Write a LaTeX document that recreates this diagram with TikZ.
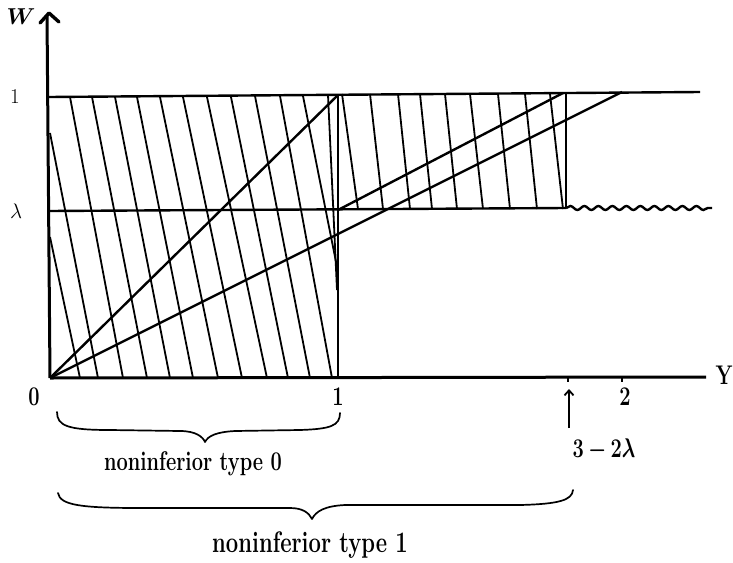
\RequirePackage{fix-cm}
\documentclass[tikz,border=0pt]{standalone}
\usepackage{amsmath,bm,graphicx}
\usetikzlibrary{arrows.meta,decorations.pathmorphing}
\newcommand{\tallt}[1]{\scalebox{1}[1.35]{#1}}
\begin{document}
\begin{tikzpicture}[x=1pt,y=-1pt,
  axis/.style={line width=3pt},
  mainline/.style={line width=2.4pt},
  hatch/.style={line width=1.8pt},
  bracepath/.style={line width=1.7pt,line cap=round,line join=round},
  lab/.style={inner sep=0pt,anchor=base,font=\fontsize{20}{24}\selectfont\bfseries},
  ylab/.style={inner sep=0pt,font=\fontsize{21}{24}\selectfont}]
\useasboundingbox (0,0) rectangle (733,562);
% named points
\coordinate (O) at (50,378);
\coordinate (Wtop) at (47,15);
\coordinate (Yend) at (706,377);
\coordinate (TL) at (49,97);
\coordinate (TR) at (700,92);
\coordinate (LL) at (49,211);
\coordinate (LR) at (566,208);
\coordinate (WavyEnd) at (712,208);
\coordinate (V1top) at (338,95);
\coordinate (V1bot) at (338,378);
\coordinate (V2top) at (566,93);
\coordinate (Y1L) at (338,210);
\coordinate (Y1Ltop) at (563,93);
\coordinate (Y2top) at (622,92);
% hatching, left block
\foreach \xa/\ya/\xb/\yb in {50/237/80/378, 50/133/98/378, 70/97/123/378, 92/97/147/378,
  115/97/170/378, 137/97/193/378, 160/97/218/378, 183/97/242/378, 207/97/267/378,
  231/97/288/378, 255/96/310/378, 280/96/332/378, 303/96/338/272, 328/95/337/290}
  \draw[hatch] (\xa,\ya) -- (\xb,\yb);
% hatching, right block
\foreach \xa/\xb in {342/358, 370/383, 398/410, 420/432, 445/457, 470/483, 498/510, 525/537, 550/563}
  \draw[hatch] (\xa,94) -- (\xb,209);
% axes
\draw[axis] (O) -- (Wtop);
\draw[line width=3.4pt,line join=round,line cap=round] (40,23) -- (49,13) -- (59,22);
\draw[axis] (O) -- (Yend);
% horizontals
\draw[mainline] (TL) -- (TR);
\draw[mainline] (LL) -- (LR);
\draw[mainline,decorate,decoration={snake,segment length=14pt,amplitude=2pt}] (LR) -- (WavyEnd);
% verticals
\draw[mainline] (V1top) -- (V1bot);
\draw[mainline] (V2top) -- (LR);
% diagonals
\draw[mainline] (O) -- (V1top);
\draw[mainline] (O) -- (Y2top);
\draw[mainline] (Y1L) -- (Y1Ltop);
% ticks
\draw[line width=1.4pt] (568,377) -- (568,382);
\draw[line width=1.4pt] (622,377) -- (622,382);
% axis labels
\node[ylab,font=\fontsize{23}{26}\selectfont] (lW) at (21,17) {$\bm{W}$};
\node[ylab] (l1) at (15,97) {1};
\node[ylab] (llam) at (16,211) {$\lambda$};
\node[lab] (x0) at (34,405) {\tallt{0}};
\node[lab] (x1) at (338,405) {\tallt{1}};
\node[lab] (x2) at (625,405) {\tallt{2}};
\node[lab] (xY) at (724,384) {\tallt{Y}};
% arrow to 3-2lambda
\coordinate (arrT) at (569,389);
\coordinate (arrB) at (569,428);
\draw[line width=1.8pt,-{Straight Barb[length=5pt,width=9pt]}] (arrB) -- (arrT);
\node[lab] (l32) at (604,457) {\tallt{$\bm{3-2\lambda}$}};
% braces
\draw[bracepath] (57,412) .. controls (57,426) and (68,430) .. (110,430)
  -- (180,431) .. controls (196,431) and (203,437) .. (205,442)
  .. controls (208,436) and (216,432) .. (235,431) -- (300,430)
  .. controls (330,429) and (340,426) .. (340,413);
\node[lab] (t0) at (193,470) {\tallt{noninferior type 0}};
\draw[bracepath] (58,493) .. controls (60,505) and (80,508) .. (140,508)
  -- (290,508) .. controls (303,508) and (309,513) .. (312,519)
  .. controls (316,511) and (325,506) .. (345,505) -- (520,505)
  .. controls (560,504) and (572,500) .. (573,490);
\node[lab,font=\fontsize{22}{26}\selectfont\bfseries] (t1) at (310,552) {\tallt{noninferior type 1}};
\end{tikzpicture}
\end{document}
